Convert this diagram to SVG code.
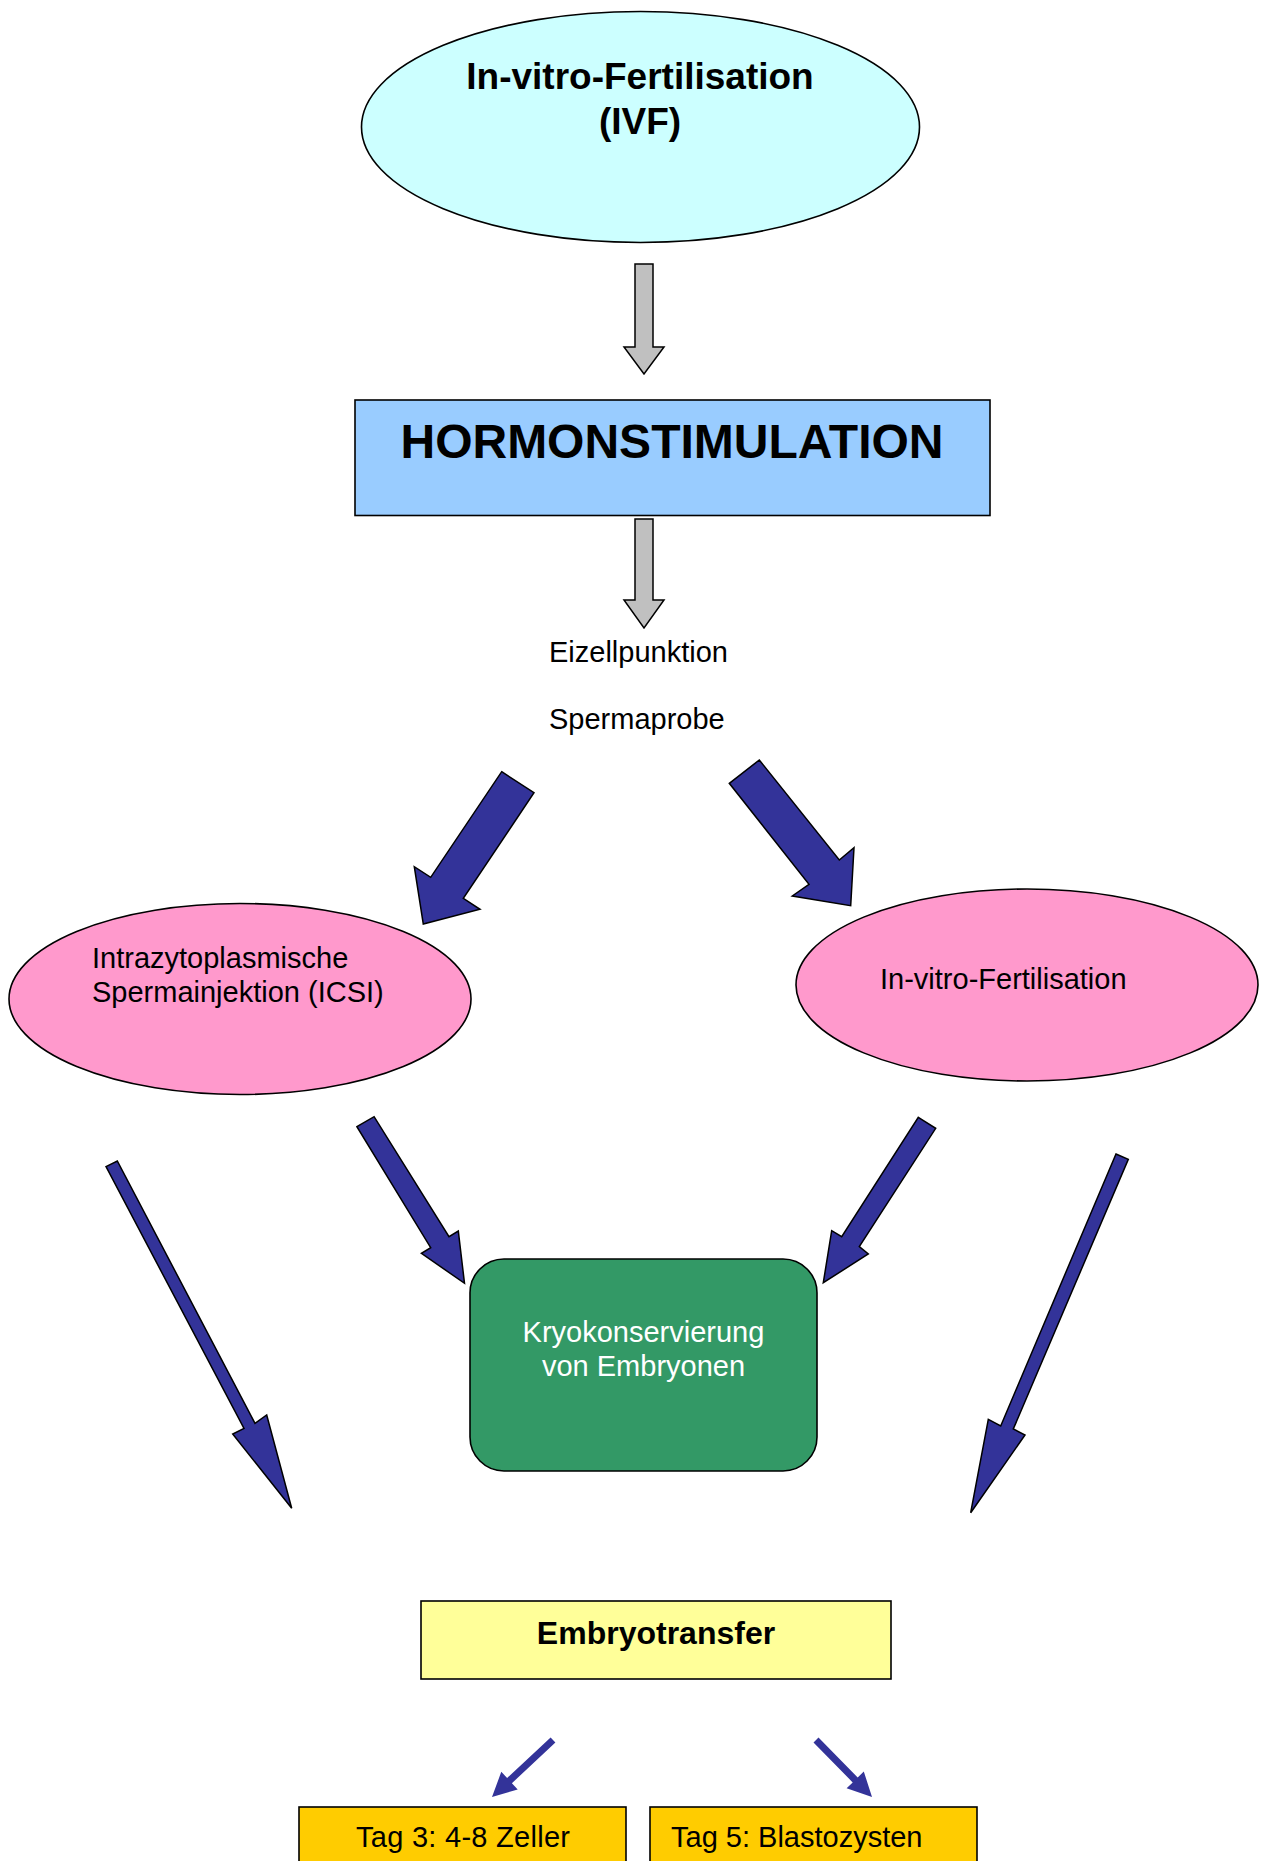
<svg xmlns="http://www.w3.org/2000/svg" width="1263" height="1861" viewBox="0 0 1263 1861">
<style>
text{font-family:"Liberation Sans",Arial,sans-serif;fill:#000}
.b{font-weight:bold}
.r{font-size:29px}
.shape{stroke:#000;stroke-width:1.6}
.blue{fill:#333399;stroke:#000;stroke-width:1.5;stroke-linejoin:miter}
.blue2{fill:#333399}
.gray{fill:#C0C0C0;stroke:#000;stroke-width:1.5}
</style>
<rect width="1263" height="1861" fill="#fff"/>
<g id="ivf">
<ellipse class="shape" cx="640.5" cy="127" rx="279" ry="115.5" fill="#CCFFFF"/>
<text class="b" x="640" y="88.5" font-size="37" text-anchor="middle">In-vitro-Fertilisation</text>
<text class="b" x="640" y="133.5" font-size="37" text-anchor="middle">(IVF)</text>
</g>
<g id="hormon">
<rect class="shape" x="355" y="400" width="635" height="115.5" fill="#99CCFF"/>
<text class="b" x="672" y="458" font-size="48" text-anchor="middle">HORMONSTIMULATION</text>
</g>
<g id="punktion">
<text class="r" x="549" y="661.5">Eizellpunktion</text>
<text class="r" x="549" y="728.5">Spermaprobe</text>
</g>
<g id="icsi">
<ellipse class="shape" cx="240" cy="999" rx="231" ry="95.5" fill="#FF99CC"/>
<text class="r" x="92" y="967.5">Intrazytoplasmische</text>
<text class="r" x="92" y="1001.5">Spermainjektion (ICSI)</text>
</g>
<g id="ivf2">
<ellipse class="shape" cx="1027" cy="985" rx="231" ry="96" fill="#FF99CC"/>
<text class="r" x="880" y="988.5">In-vitro-Fertilisation</text>
</g>
<g id="kryo">
<rect class="shape" x="470" y="1259" width="347" height="212" rx="34" ry="34" fill="#339966"/>
<text class="r" x="643.5" y="1341.5" text-anchor="middle" style="fill:#fff">Kryokonservierung</text>
<text class="r" x="643.5" y="1375.5" text-anchor="middle" style="fill:#fff">von Embryonen</text>
</g>
<g id="embryotransfer">
<rect class="shape" x="421" y="1601" width="470" height="78" fill="#FFFF99"/>
<text class="b" x="656" y="1643.5" font-size="32" text-anchor="middle">Embryotransfer</text>
</g>
<g id="tag3">
<rect class="shape" x="299" y="1807" width="327" height="80" fill="#FFCC00"/>
<text class="r" x="356" y="1846.5" textLength="214">Tag 3: 4-8 Zeller</text>
</g>
<g id="tag5">
<rect class="shape" x="650" y="1807" width="327" height="80" fill="#FFCC00"/>
<text class="r" x="671" y="1846.5">Tag 5: Blastozysten</text>
</g>
<g id="connectors">
<polygon class="gray" points="635,264 653,264 653,347 664,347 644,374 624,347 635,347"/>
<polygon class="gray" points="635,519 653,519 653,600 664,600 644,628 624,600 635,600"/>
<polygon class="blue" points="501.7,771.7 534,792.7 463.3,898.3 480,909.3 423.3,924 414.3,866.7 430.7,877.3"/>
<polygon class="blue" points="729.3,783.3 759.3,760 839.3,860 854,847.7 850.7,905.7 792.3,896 809,884.3"/>
<polygon class="blue" points="356.9,1126.7 374.1,1116.7 449,1236.7 458.3,1231 464.5,1283.3 421.4,1253.3 430.7,1247.7"/>
<polygon class="blue" points="918.3,1117.3 935.7,1128.3 859.3,1246.7 868.3,1254 823.3,1282.7 831.7,1230.7 841.7,1236.7"/>
<polygon class="blue" points="106,1166.7 117.3,1161 255,1423.3 266.7,1415 291.7,1508.3 232.7,1434 244,1428.3"/>
<polygon class="blue" points="1116,1154 1128.3,1159.3 1013.3,1429 1025,1435 970.7,1512.7 988.3,1419.3 1000.7,1426"/>
<polygon class="blue2" points="555.4,1742.6 511.9,1783.2 517.7,1789.4 492,1797 501.3,1771.8 507.1,1778 550.6,1737.4"/>
<polygon class="blue2" points="818.5,1737.5 857.7,1777.4 863.8,1771.5 872,1797 846.6,1788.3 852.7,1782.4 813.5,1742.5"/>
</g>
</svg>
